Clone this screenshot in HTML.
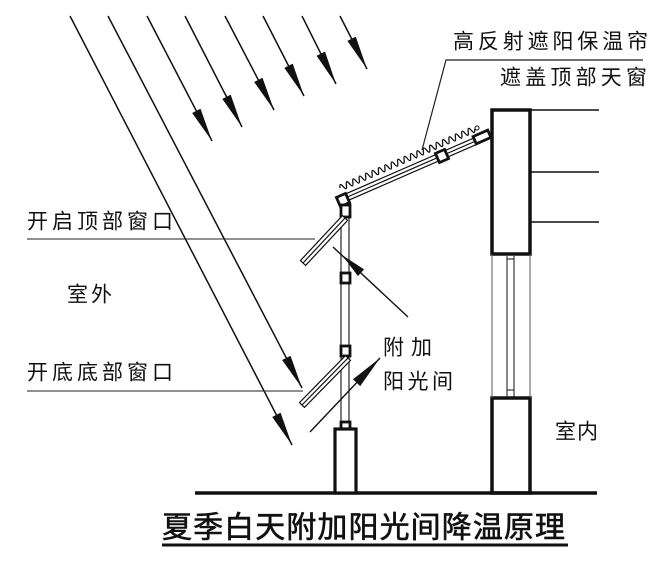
<!DOCTYPE html>
<html><head><meta charset="utf-8"><style>
html,body{margin:0;padding:0;background:#fff;}
svg{display:block;}
text{font-family:"Liberation Sans","Noto Sans CJK SC",sans-serif;fill:#111;}
</style></head><body>
<svg width="666" height="572" viewBox="0 0 666 572" xmlns="http://www.w3.org/2000/svg">
<defs>
<marker id="ah" markerUnits="userSpaceOnUse" markerWidth="40" markerHeight="12" refX="34" refY="5" orient="auto">
<path d="M0,0.3 L34,5 L0,9.7 z" fill="#111"/>
</marker>
</defs>
<g stroke="#111" stroke-width="1.5" fill="none">
<line x1="70" y1="16" x2="292" y2="445" marker-end="url(#ah)"/>
<line x1="108" y1="16" x2="302" y2="388" marker-end="url(#ah)"/>
<line x1="147" y1="16" x2="212" y2="141" marker-end="url(#ah)"/>
<line x1="185" y1="16" x2="242" y2="127" marker-end="url(#ah)"/>
<line x1="225" y1="16" x2="274" y2="110" marker-end="url(#ah)"/>
<line x1="263" y1="16" x2="304" y2="96" marker-end="url(#ah)"/>
<line x1="302" y1="16" x2="336" y2="84" marker-end="url(#ah)"/>
<line x1="340" y1="16" x2="367" y2="69" marker-end="url(#ah)"/>
</g>
<!-- label lines -->
<g stroke="#222" stroke-width="1" fill="none">
<line x1="27" y1="239" x2="315" y2="239"/>
<line x1="27" y1="391" x2="303" y2="391"/>
<polyline points="422,150 446,60 643,60" stroke-width="1.2"/>
</g>
<!-- right building -->
<g stroke="#111" fill="none">
<rect x="492" y="110" width="38" height="144" stroke-width="3.5" fill="#fff"/>
<rect x="492" y="398" width="38" height="95" stroke-width="3.5" fill="#fff"/>
<line x1="492" y1="254" x2="492" y2="398" stroke-width="1" stroke="#555"/>
<line x1="530" y1="254" x2="530" y2="398" stroke-width="1" stroke="#555"/>
<line x1="507" y1="256" x2="507" y2="397" stroke-width="1"/>
<line x1="514" y1="256" x2="514" y2="397" stroke-width="1"/>
<line x1="507" y1="259" x2="514" y2="259" stroke-width="1"/>
<line x1="507" y1="390" x2="514" y2="390" stroke-width="1"/>
<line x1="530" y1="110" x2="599" y2="110" stroke-width="1.5"/>
<line x1="530" y1="172" x2="599" y2="172" stroke-width="1.5"/>
<line x1="530" y1="222" x2="599" y2="222" stroke-width="1.5"/>
</g>
<!-- ground -->
<line x1="195" y1="493" x2="597" y2="493" stroke="#111" stroke-width="3.5"/>
<!-- roof glazing -->
<g stroke="#111" stroke-width="1.2" fill="none">
<line x1="343.6" y1="194.8" x2="476.6" y2="136.8"/>
<line x1="345" y1="198" x2="478" y2="140"/>
<line x1="346.4" y1="201.2" x2="479.4" y2="143.2"/>
</g>
<path d="M340,188 q-0.80,-6.2 3.206,-1.404 t3.206,-1.404 t3.206,-1.404 t3.206,-1.404 t3.206,-1.404 t3.206,-1.404 t3.206,-1.404 t3.206,-1.404 t3.206,-1.404 t3.206,-1.404 t3.206,-1.404 t3.206,-1.404 t3.206,-1.404 t3.206,-1.404 t3.206,-1.404 t3.206,-1.404 t3.206,-1.404 t3.206,-1.404 t3.206,-1.404 t3.206,-1.404 t3.206,-1.404 t3.206,-1.404 t3.206,-1.404 t3.206,-1.404 t3.206,-1.404 t3.206,-1.404 t3.206,-1.404 t3.206,-1.404 t3.206,-1.404 t3.206,-1.404 t3.206,-1.404 t3.206,-1.404 t3.206,-1.404 t3.206,-1.404 t3.206,-1.404 t3.206,-1.404 t3.206,-1.404 t3.206,-1.404 t3.206,-1.404 t3.206,-1.404 t3.206,-1.404 t3.206,-1.404" stroke="#111" stroke-width="1.3" fill="none"/>
<circle cx="477" cy="128" r="2" stroke="#111" stroke-width="1" fill="#fff"/>
<rect x="437" y="151" width="10" height="10" stroke="#111" stroke-width="2.8" fill="#fff" transform="rotate(-23.6 442 156)"/>
<rect x="474" y="133" width="16" height="8" stroke="#111" stroke-width="2.8" fill="#fff" transform="rotate(-23.6 482 137)"/>
<!-- sunroom verticals -->
<g stroke="#111" stroke-width="1.1">
<line x1="341" y1="205" x2="341" y2="429"/>
<line x1="349" y1="205" x2="349" y2="429"/>
</g>
<rect x="338" y="195" width="10" height="10" stroke="#111" stroke-width="2.8" fill="#fff" transform="rotate(-23.6 343 200)"/>
<rect x="341" y="205" width="9" height="12" stroke="#111" stroke-width="2.8" fill="#fff"/>
<rect x="341" y="273" width="9" height="10" stroke="#111" stroke-width="2.8" fill="#fff"/>
<rect x="341" y="346" width="9" height="10" stroke="#111" stroke-width="2.8" fill="#fff"/>
<rect x="341" y="422" width="9" height="8" stroke="#111" stroke-width="2.8" fill="#fff"/>
<rect x="335" y="429" width="21" height="64" stroke="#111" stroke-width="3.2" fill="#fff"/>
<!-- open panels -->
<g stroke="#111" stroke-width="1.2" fill="#fff">
<polygon points="347.6,220.4 342.4,215.6 300.4,260.6 305.6,265.4"/>
<line x1="345" y1="218" x2="303" y2="263"/>
<polygon points="350.5,360.4 345.5,355.6 299.5,402.6 304.5,407.4"/>
<line x1="348" y1="358" x2="302" y2="405"/>
</g>
<!-- pointer arrows -->
<line x1="408" y1="317" x2="333" y2="247" stroke="#111" stroke-width="1.4"/>
<polygon points="342,255 364.1,269.4 357.9,276.0" fill="#111"/>
<line x1="310" y1="432" x2="380" y2="358" stroke="#111" stroke-width="1.4"/>
<polygon points="380,358 360.2,386.1 353,379.3" fill="#111"/>
<!-- text -->
<g font-size="21">
<text x="453" y="42" dominant-baseline="central" textLength="195" lengthAdjust="spacing">高反射遮阳保温帘</text>
<text x="500" y="78" dominant-baseline="central" textLength="147" lengthAdjust="spacing">遮盖顶部天窗</text>
<text x="27" y="222" dominant-baseline="central" textLength="146" lengthAdjust="spacing">开启顶部窗口</text>
<text x="67" y="295" dominant-baseline="central" textLength="45" lengthAdjust="spacing">室外</text>
<text x="27" y="373" dominant-baseline="central" textLength="146" lengthAdjust="spacing">开底底部窗口</text>
<text x="383" y="348" dominant-baseline="central" textLength="49" lengthAdjust="spacing">附加</text>
<text x="383" y="382" dominant-baseline="central" textLength="70" lengthAdjust="spacing">阳光间</text>
<text x="555" y="432" dominant-baseline="central" textLength="43" lengthAdjust="spacing">室内</text>
</g>
<text x="162" y="528" font-size="30" dominant-baseline="central" textLength="403" lengthAdjust="spacing" stroke="#111" stroke-width="0.6">夏季白天附加阳光间降温原理</text>
<line x1="162" y1="545" x2="568" y2="545" stroke="#111" stroke-width="3"/>
</svg>
</body></html>
